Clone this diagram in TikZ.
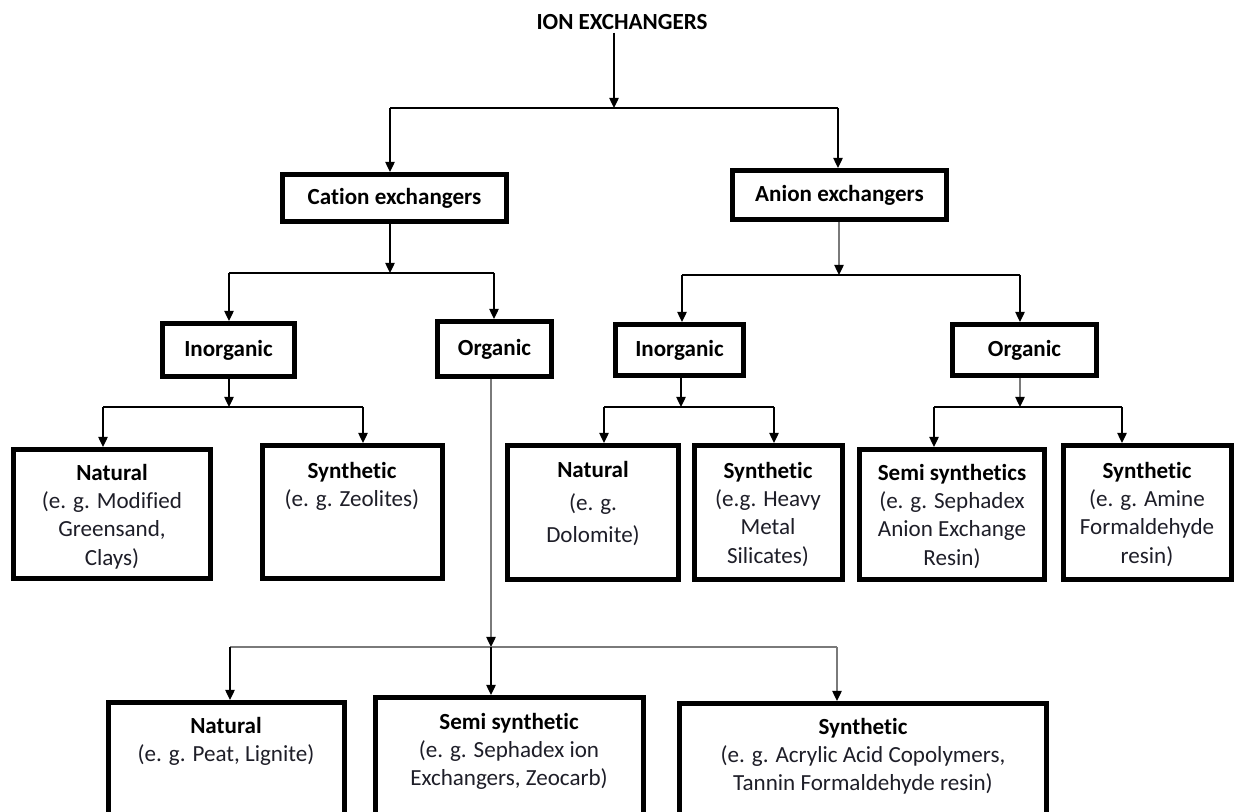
\documentclass[tikz,border=0pt]{standalone}
\usepackage{fontspec}
\setmainfont{Carlito}[Ligatures={NoCommon,NoContextual},RawFeature={-liga;-clig;-calt;-dlig}]
\usetikzlibrary{arrows.meta}
\definecolor{txtc}{HTML}{1E1E28}
\definecolor{greyln}{HTML}{7A7A7A}
\newcommand{\mybox}[5]{\node[bx, minimum width={(#4-#2-5)*0.75pt}, minimum height={(#5-#3-5)*0.75pt}] (#1) at ({(#2+#4)/2},{(#3+#5)/2}) {};}
\tikzset{
  bx/.style={draw=black, line width=3.75pt, inner sep=0pt, fill=white},
  txt/.style={font=\fontsize{17.3}{21.2}\selectfont, text=txtc, align=center, inner sep=0pt, anchor=north},
  lbl/.style={font=\fontsize{17.3}{21}\selectfont\bfseries, text=black, inner sep=0pt},
  ln/.style={draw=black, line width=1pt},
  gln/.style={draw=greyln, line width=1pt},
  arr/.style={draw=black, line width=1pt, -{Triangle[length=7.5pt,width=7pt]}},
  garr/.style={draw=greyln, line width=1pt, -{Triangle[length=7.5pt,width=7pt,color=black]}},
}
\begin{document}
\begin{tikzpicture}[x=0.75pt,y=-0.75pt]
\useasboundingbox (0,0) rectangle (1236,812);
\clip (0,0) rectangle (1236,812);
% title
\node[lbl, inner sep=2pt] (title) at (622,22) {ION EXCHANGERS};
% level 1
\mybox{cation}{280}{172}{509}{224}
\node[lbl] (cationt) at (cation.center) {Cation exchangers};
\mybox{anion}{730}{168}{949}{222}
\node[lbl] (aniont) at (anion.center) {Anion exchangers};
% level 2
\mybox{inorgL}{160}{321}{297}{379}
\node[lbl] (inorgLt) at (inorgL.center) {Inorganic};
\mybox{orgL}{435}{319}{554}{379}
\node[lbl] (orgLt) at (orgL.center) {Organic};
\mybox{inorgR}{613}{322}{746}{378}
\node[lbl] (inorgRt) at (inorgR.center) {Inorganic};
\mybox{orgR}{950}{322}{1099}{378}
\node[lbl] (orgRt) at (orgR.center) {Organic};
% level 3
\mybox{natL}{11}{447}{213}{581}
\node[txt] (natLt) at (112,464) {\textbf{\color{black}Natural}\\(e. g. Modified\\Greensand,\\Clays)};
\mybox{synL}{260}{443}{445}{581}
\node[txt] (synLt) at (352,462) {\textbf{\color{black}Synthetic}\\(e. g. Zeolites)};
\mybox{natR}{505}{443}{681}{582}
\node[txt, font=\fontsize{17.3}{24.5}\selectfont] (natRt) at (593,461) {\textbf{\color{black}Natural}\\(e. g.\\Dolomite)};
\mybox{synR}{692}{443}{845}{582}
\node[txt] (synRt) at (768,462) {\textbf{\color{black}Synthetic}\\(e.g. Heavy\\Metal\\Silicates)};
\mybox{semiR}{857}{447}{1047}{582}
\node[txt] (semiRt) at (952,464) {\textbf{\color{black}Semi synthetics}\\(e. g. Sephadex\\Anion Exchange\\Resin)};
\mybox{synF}{1061}{443}{1234}{582}
\node[txt] (synFt) at (1147,462) {\textbf{\color{black}Synthetic}\\(e. g. Amine\\Formaldehyde\\resin)};
% level 4
\mybox{natB}{106}{700}{347}{830}
\node[txt] (natBt) at (226,717) {\textbf{\color{black}Natural}\\(e. g. Peat, Lignite)};
\mybox{semiB}{373}{695}{646}{830}
\node[txt] (semiBt) at (509,713) {\textbf{\color{black}Semi synthetic}\\(e. g. Sephadex ion\\Exchangers, Zeocarb)};
\mybox{synB}{677}{701}{1049}{830}
\node[txt] (synBt) at (863,718) {\textbf{\color{black}Synthetic}\\(e. g. Acrylic Acid Copolymers,\\Tannin Formaldehyde resin)};
% junction coordinates
\coordinate (j0) at (614,108);
\coordinate (j0a) at (390,108);
\coordinate (j0b) at (838,108);
\coordinate (j1) at (390,273);
\coordinate (j1a) at (229,273);
\coordinate (j1b) at (494,273);
\coordinate (j2) at (839,275);
\coordinate (j2a) at (682,275);
\coordinate (j2b) at (1020,275);
\coordinate (j3) at (229,407);
\coordinate (j3a) at (103,407);
\coordinate (j3b) at (363,407);
\coordinate (j4) at (681,407);
\coordinate (j4a) at (604,407);
\coordinate (j4b) at (774,407);
\coordinate (j5) at (1020,407);
\coordinate (j5a) at (934,407);
\coordinate (j5b) at (1122,407);
\coordinate (j6) at (491,647);
\coordinate (j6a) at (230,647);
\coordinate (j6c) at (837,647);
% connectors
\draw[arr] (title.south -| j0) -- (j0);
\draw[ln] (j0a) -- (j0b);
\draw[arr] (j0a) -- (j0a |- cation.north);
\draw[arr] (j0b) -- (j0b |- anion.north);

\draw[arr] (j1 |- cation.south) -- (j1);
\draw[ln] (j1a) -- (j1b);
\draw[arr] (j1a) -- (j1a |- inorgL.north);
\draw[arr] (j1b) -- (j1b |- orgL.north);

\draw[garr] (j2 |- anion.south) -- (j2);
\draw[ln] (j2a) -- (j2b);
\draw[arr] (j2a) -- (j2a |- inorgR.north);
\draw[arr] (j2b) -- (j2b |- orgR.north);

\draw[arr] (j3 |- inorgL.south) -- (j3);
\draw[ln] (j3a) -- (j3b);
\draw[arr] (j3a) -- (j3a |- natL.north);
\draw[arr] (j3b) -- (j3b |- synL.north);

\draw[arr] (j4 |- inorgR.south) -- (j4);
\draw[ln] (j4a) -- (j4b);
\draw[arr] (j4a) -- (j4a |- natR.north);
\draw[arr] (j4b) -- (j4b |- synR.north);

\draw[garr] (j5 |- orgR.south) -- (j5);
\draw[ln] (j5a) -- (j5b);
\draw[arr] (j5a) -- (j5a |- semiR.north);
\draw[arr] (j5b) -- (j5b |- synF.north);

\draw[garr] (j6 |- orgL.south) -- (j6);
\draw[gln] (j6a) -- (j6c);
\draw[arr] (j6a) -- (j6a |- natB.north);
\draw[arr] (j6) -- (j6 |- semiB.north);
\draw[garr] (j6c) -- (j6c |- synB.north);
\end{tikzpicture}
\end{document}
